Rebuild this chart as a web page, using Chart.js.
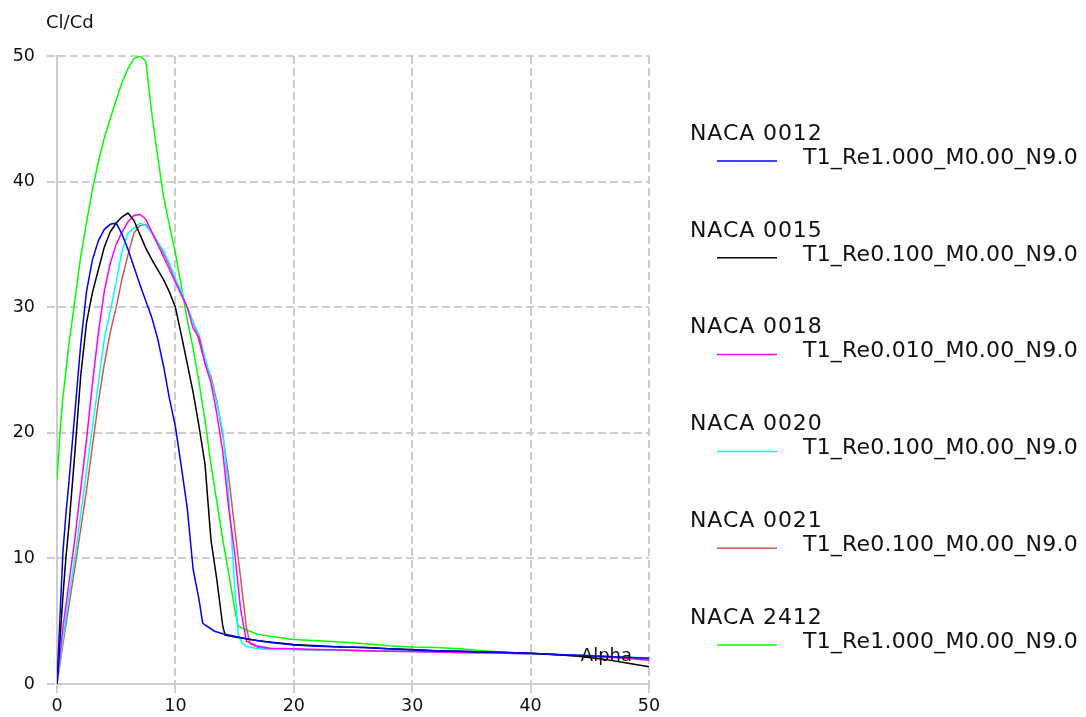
<!DOCTYPE html>
<html>
<head>
<meta charset="utf-8">
<script src="https://cdn.jsdelivr.net/npm/chart.js@4"></script>
<style>
  html, body { margin: 0; padding: 0; background: #fff; }
  #wrap { width: 1086px; height: 717px; position: relative; }
</style>
</head>
<body>
<div id="wrap"><canvas id="grafico"></canvas></div>
<script>
// Cl/Cd vs Alpha
const foilNames = ['NACA 0012', 'NACA 0015', 'NACA 0018', 'NACA 0020', 'NACA 0021', 'NACA 2412']
const runNames = ['T1_Re1.000_M0.00_N9.0', 'T1_Re0.100_M0.00_N9.0', 'T1_Re0.010_M0.00_N9.0',
  'T1_Re0.100_M0.00_N9.0', 'T1_Re0.100_M0.00_N9.0', 'T1_Re1.000_M0.00_N9.0']
const colores = ['#0000ff', '#000000', '#ff00ff', '#00ffff', '#d0584c', '#00ff00']

const xTicks = [0, 10, 20, 30, 40, 50]
const yTicks = [0, 10, 20, 30, 40, 50]

const alpha0012 = [0, 0.25, 0.5, 0.75, 1, 1.5, 2, 2.5, 3, 3.5, 4, 4.5, 5, 5.5, 6, 6.5, 7, 7.5, 8, 8.5, 9, 9.5, 10, 10.5, 11, 11.5, 12, 12.3, 12.5, 13.3, 14, 15, 16, 17, 18, 20, 22, 24, 26, 28, 30, 32, 34, 36, 38, 40, 42, 44, 46, 48, 50]
const clcd0012 = [0, 5.3, 10.5, 13.5, 16, 21.5, 27, 31.3, 33.8, 35.3, 36.2, 36.6, 36.7, 35.8, 34.6, 33.2, 31.8, 30.5, 29.2, 27.5, 25.3, 22.7, 20.5, 17.3, 14, 9.1, 6.7, 4.85, 4.7, 4.2, 4.0, 3.8, 3.6, 3.45, 3.3, 3.1, 3.0, 2.95, 2.9, 2.8, 2.7, 2.65, 2.6, 2.55, 2.5, 2.45, 2.35, 2.28, 2.2, 2.12, 2.05]

const alpha0015 = [0, 0.25, 0.5, 0.75, 1, 1.5, 2, 2.5, 3, 3.5, 4, 4.5, 5, 5.5, 6, 6.5, 7, 7.5, 8, 8.5, 9, 9.5, 10, 10.5, 11, 11.5, 12, 12.5, 13, 13.5, 14, 14.2, 15, 16, 17, 18, 20, 22, 24, 26, 28, 30, 32, 34, 36, 38, 40, 42, 44, 46, 48, 50]
const clcd0015 = [0, 3.5, 7, 10, 12.5, 18.3, 24.5, 28.8, 31.2, 33, 34.8, 36, 36.7, 37.2, 37.5, 36.9, 35.8, 34.7, 33.8, 33, 32.2, 31.2, 30, 27.8, 25.5, 23.2, 20.5, 17.5, 11.5, 8.3, 4.6, 3.9, 3.75, 3.6, 3.45, 3.35, 3.15, 3.05, 2.95, 2.9, 2.8, 2.75, 2.65, 2.6, 2.55, 2.5, 2.45, 2.35, 2.2, 2.0, 1.7, 1.38]

const alpha0018 = [0, 0.5, 1, 1.5, 2, 2.5, 3, 3.5, 4, 4.5, 5, 5.5, 6, 6.5, 7, 7.5, 8, 8.5, 9, 9.5, 10, 10.5, 11, 11.5, 12, 12.5, 13, 13.5, 14, 14.5, 15, 15.5, 16, 17, 18, 20, 22, 24, 26, 28, 30, 32, 34, 36, 38, 40, 42, 44, 46, 48, 50]
const clcd0018 = [0, 4.5, 8, 11.5, 15.5, 19.5, 24, 28, 31.3, 33.5, 35, 36, 36.8, 37.3, 37.4, 37, 36, 35, 34, 33, 32, 31, 30, 28.3, 27.6, 25.5, 24, 21.5, 18.5, 14, 10.5, 6, 3.4, 3.0, 2.85, 2.8, 2.75, 2.7, 2.65, 2.6, 2.58, 2.55, 2.5, 2.48, 2.45, 2.4, 2.35, 2.25, 2.15, 2.05, 1.9]

const alpha0020 = [0, 0.5, 1, 1.5, 2, 2.5, 3, 3.5, 4, 4.5, 5, 5.5, 6, 6.5, 7, 7.5, 8, 8.5, 9, 9.5, 10, 10.5, 11, 11.5, 12, 12.5, 13, 13.5, 14, 14.5, 15, 15.3, 15.6, 16, 17, 18, 20, 22, 24, 26, 28, 30, 32, 34, 36, 38, 40, 42, 44, 46, 48, 50]
const clcd0020 = [0, 3.5, 7, 10, 13.5, 17, 20.5, 24, 27.5, 29.7, 32, 34.5, 35.9, 36.3, 36.7, 36.5, 35.9, 35.2, 34.5, 33.5, 32.3, 31.2, 30, 28.8, 27.8, 26, 24.3, 22.3, 20.2, 15, 8, 4, 3.3, 3.0, 2.8, 2.75, 2.75, 2.72, 2.7, 2.65, 2.62, 2.6, 2.55, 2.5, 2.48, 2.45, 2.4, 2.35, 2.3, 2.2, 2.12, 2.05]

const alpha0021 = [0, 0.5, 1, 1.5, 2, 2.5, 3, 3.5, 4, 4.5, 5, 5.5, 6, 6.5, 7, 7.5, 8, 8.5, 9, 9.5, 10, 10.5, 11, 11.5, 12, 12.5, 13, 13.5, 14, 14.5, 15, 15.5, 16, 16.3, 17, 18, 20, 22, 24, 26, 28, 30, 32, 34, 36, 38, 40, 42, 44, 46, 48, 50]
const clcd0021 = [0, 3.2, 6.2, 9.2, 12.3, 15.5, 19, 22.5, 25.5, 28, 30, 32.3, 34.2, 35.9, 36.5, 36.6, 36, 35.2, 34.3, 33.3, 32.2, 31, 30, 28.8, 27.3, 25.6, 24.5, 22.5, 19.8, 16.5, 12.5, 8.5, 4.5, 3.2, 2.9, 2.8, 2.75, 2.7, 2.68, 2.65, 2.6, 2.58, 2.55, 2.5, 2.48, 2.45, 2.4, 2.35, 2.28, 2.2, 2.1, 2.0]

const alpha2412 = [0, 0.25, 0.5, 1, 1.5, 2, 2.5, 3, 3.5, 4, 4.5, 5, 5.5, 6, 6.5, 7, 7.5, 8, 8.5, 9, 9.5, 10, 10.5, 11, 11.5, 12, 12.5, 13, 13.5, 14, 14.5, 15, 15.3, 16, 17, 18, 20, 22, 24, 26, 28, 30, 32, 34, 36, 38, 40, 42, 44, 46, 48, 50]
const clcd2412 = [16.2, 20, 22.8, 27, 30.5, 34, 36.8, 39.4, 41.6, 43.5, 45, 46.5, 47.9, 49, 49.8, 50, 49.6, 45.5, 42, 38.8, 36.5, 34.3, 31.7, 29, 26.7, 24, 21, 17.5, 14.5, 11.5, 8.8, 6, 4.6, 4.3, 3.95, 3.8, 3.55, 3.45, 3.35, 3.2, 3.05, 2.95, 2.9, 2.8, 2.65, 2.5, 2.45, 2.35, 2.28, 2.2, 2.12, 2.05]

const alphas = [alpha0012, alpha0015, alpha0018, alpha0020, alpha0021, alpha2412]
const valores = [clcd0012, clcd0015, clcd0018, clcd0020, clcd0021, clcd2412]

const fuente = "'DejaVu Sans', sans-serif"
const gris = 'rgb(205,205,205)'

// textos sueltos y leyenda a la derecha
const textosPlugin = {
  id: 'textos',
  afterDraw(chart) {
    const ctx = chart.ctx
    const area = chart.chartArea
    ctx.save()
    ctx.fillStyle = '#111'
    ctx.font = '18px ' + fuente
    ctx.textAlign = 'left'
    ctx.textBaseline = 'alphabetic'
    ctx.fillText('Cl/Cd', area.left - 11, 28)
    ctx.textAlign = 'right'
    ctx.fillText('Alpha', area.right - 17, area.bottom - 23)

    for (let i = 0; i < foilNames.length; i++) {
      const y0 = 134 + i * 96.8
      ctx.textAlign = 'left'
      ctx.textBaseline = 'middle'
      ctx.font = '22px ' + fuente
      ctx.letterSpacing = '0.9px'
      ctx.fillStyle = '#111'
      ctx.fillText(foilNames[i], 690, y0)
      ctx.letterSpacing = '0.2px'
      ctx.fillText(runNames[i], 803, y0 + 24)
      ctx.letterSpacing = '0px'
      ctx.strokeStyle = colores[i]
      ctx.lineWidth = 1.5
      ctx.beginPath()
      ctx.moveTo(717, y0 + 27)
      ctx.lineTo(777, y0 + 27)
      ctx.stroke()
    }
    ctx.restore()
  }
}

const datasets = []
for (let i = 0; i < foilNames.length; i++) {
  const puntos = []
  for (let k = 0; k < alphas[i].length; k++) {
    puntos.push({ x: alphas[i][k], y: valores[i][k] })
  }
  datasets.push({
    label: foilNames[i],
    data: puntos,
    borderColor: colores[i],
    backgroundColor: colores[i],
    borderWidth: 1.5,
    pointRadius: 0,
    tension: 0,
    fill: false
  })
}

const config = {
  type: 'line',
  data: { datasets: datasets },
  options: {
    responsive: true,
    maintainAspectRatio: false,
    animation: false,
    layout: { padding: { top: 56, right: 437, left: 0, bottom: 0 } },
    plugins: {
      legend: { display: false },
      tooltip: { enabled: false },
      title: { display: false }
    },
    scales: {
      x: {
        type: 'linear',
        min: 0,
        max: 50,
        afterFit: (scale) => { scale.height = 33 },
        afterBuildTicks: (scale) => { scale.ticks = xTicks.map(v => ({ value: v })) },
        ticks: { color: '#111', font: { family: fuente, size: 17.5 }, padding: 2, maxRotation: 0 },
        grid: { color: gris, lineWidth: 2, tickLength: 10, tickBorderDash: [8, 4] },
        border: { display: true, color: gris, width: 2, dash: [8, 4] }
      },
      y: {
        min: 0,
        max: 50,
        afterFit: (scale) => { scale.width = 57 },
        afterBuildTicks: (scale) => { scale.ticks = yTicks.map(v => ({ value: v })) },
        ticks: { color: '#111', font: { family: fuente, size: 17.5 }, padding: 12 },
        grid: { color: gris, lineWidth: 2, tickLength: 10, tickBorderDash: [8, 4] },
        border: { display: true, color: gris, width: 2, dash: [8, 4] }
      }
    }
  },
  plugins: [textosPlugin]
}

const miGrafico = new Chart(document.getElementById('grafico'), config)
</script>
</body>
</html>
